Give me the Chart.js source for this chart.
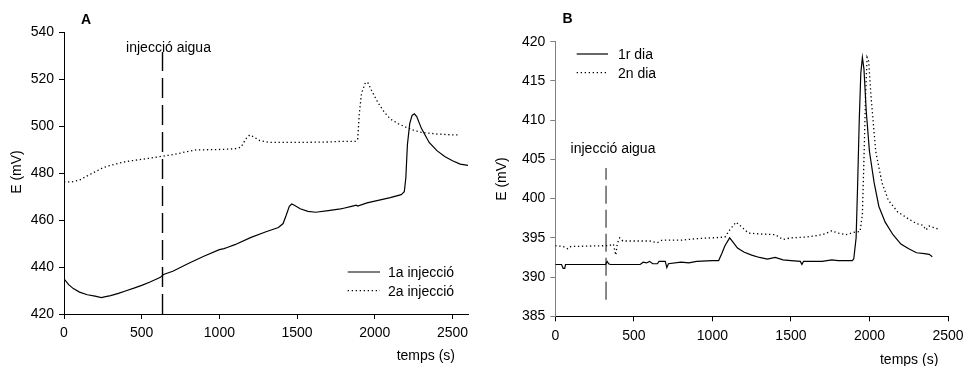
<!DOCTYPE html>
<html>
<head>
<meta charset="utf-8">
<script src="https://cdn.jsdelivr.net/npm/chart.js@4"></script>
<style>
	body { margin: 0; background: #fff; }
	#wrap { position: relative; width: 963px; height: 366px; }
	canvas { position: absolute; top: 0; }
	#chartA { left: 0; }
	#chartB { left: 480px; }
</style>
</head>
<body>
<div id="wrap">
	<canvas id="chartA" width="480" height="366"></canvas>
	<canvas id="chartB" width="483" height="366"></canvas>
</div>
<script>
// panel A: 1a / 2a injecció
var timeA1 = [0, 30, 60, 100, 150, 200, 240, 260, 300, 350, 400, 450, 500, 550, 600, 620, 640, 700, 800, 900, 1000, 1030, 1050, 1100, 1200, 1300, 1380, 1410, 1430, 1450, 1465, 1480, 1520, 1570, 1620, 1700, 1780, 1800, 1850, 1880, 1890, 1950, 2000, 2100, 2170, 2190, 2200, 2210, 2225, 2240, 2255, 2270, 2300, 2350, 2400, 2450, 2500, 2550, 2600]
var valA1 = [435, 432.5, 430.8, 429.3, 428.2, 427.6, 427, 427.3, 427.8, 428.8, 429.9, 431, 432.2, 433.5, 435, 435.6, 436.8, 438.2, 441.5, 444.6, 447.4, 447.8, 448.3, 449.5, 452.5, 455, 456.8, 458.5, 462, 465.8, 466.8, 466.4, 464.8, 463.7, 463.3, 464, 464.7, 465, 465.8, 466.3, 465.9, 467.3, 468, 469.5, 470.8, 472, 478, 492, 501, 504.5, 505.2, 504, 499, 493, 489.5, 487, 485.2, 483.8, 483.2]
var timeA2 = [0, 50, 100, 150, 200, 250, 300, 400, 500, 600, 640, 700, 800, 850, 1000, 1100, 1140, 1170, 1195, 1220, 1260, 1320, 1500, 1700, 1800, 1880, 1890, 1900, 1915, 1940, 1955, 1980, 2020, 2060, 2100, 2150, 2200, 2250, 2300, 2400, 2500, 2550]
var valA2 = [476.2, 476.2, 477, 478.8, 480.5, 482.2, 483.3, 484.9, 485.8, 486.8, 487.2, 487.8, 489.2, 489.8, 490, 490.3, 491, 494.5, 496.2, 495.4, 493.8, 493, 493, 493.2, 493.5, 493.5, 494.5, 505, 514, 518.5, 518.5, 515, 510, 506, 503, 501, 499.5, 498.2, 497.3, 496.6, 496.2, 496.2]

// panel B: 1r / 2n dia
var timeB1 = [0, 40, 50, 60, 65, 320, 330, 340, 350, 540, 560, 580, 600, 620, 650, 660, 700, 710, 720, 800, 850, 900, 1000, 1040, 1060, 1080, 1110, 1130, 1160, 1200, 1250, 1300, 1350, 1400, 1450, 1500, 1560, 1570, 1580, 1700, 1760, 1800, 1890, 1900, 1915, 1925, 1935, 1945, 1955, 1965, 1980, 2000, 2030, 2060, 2100, 2150, 2200, 2250, 2300, 2350, 2380, 2400]
var valB1 = [391.6, 391.6, 391.1, 391.1, 391.6, 391.6, 392, 391.7, 391.6, 391.6, 391.9, 391.8, 392, 391.7, 391.7, 392, 392, 391.2, 391.7, 391.9, 391.8, 392, 392.1, 392.1, 393, 394, 395, 394.5, 393.7, 393.2, 392.8, 392.5, 392.3, 392.5, 392.2, 392.1, 392, 391.6, 392, 392, 392.2, 392.1, 392.1, 392.3, 395, 402, 410, 416, 418, 416.5, 411, 406, 402, 399, 397, 395.4, 394.2, 393.6, 393.1, 393, 392.9, 392.6]
var timeB2 = [0, 50, 80, 100, 320, 340, 370, 385, 395, 410, 430, 600, 650, 680, 800, 900, 1000, 1080, 1110, 1150, 1180, 1230, 1300, 1400, 1450, 1500, 1600, 1700, 1760, 1800, 1850, 1900, 1940, 1955, 1965, 1975, 1985, 1995, 2010, 2040, 2080, 2120, 2180, 2250, 2300, 2340, 2360, 2380, 2440]
var valB2 = [394, 393.9, 393.6, 393.9, 394, 394, 394.2, 392.8, 394.3, 395, 394.6, 394.6, 394.4, 394.7, 394.7, 394.9, 395, 395.1, 396, 397, 396.5, 395.6, 395.5, 395.4, 394.8, 395, 395.1, 395.4, 395.9, 395.6, 395.4, 395.7, 395.8, 398, 405, 413, 418, 417.5, 413, 406, 402, 399.8, 398.3, 397.4, 396.8, 396.6, 396, 396.5, 396.1]

// tick labels
var xTicks = [0, 500, 1000, 1500, 2000, 2500]
var yTicksA = [420, 440, 460, 480, 500, 520, 540]
var yTicksB = [385, 390, 395, 400, 405, 410, 415, 420]

// water injection markers
var injA = [634, 420, 531.5]
var injB = [323, 387.1, 403.9]

var fontName = '"Liberation Sans", Arial, sans-serif'

function pts(xs, ys) {
	return xs.map(function(x, i) { return {x: x, y: ys[i]} })
}

function lineSet(xs, ys, dash, color, width) {
	return {
		data: pts(xs, ys),
		showLine: true,
		borderColor: color,
		borderWidth: width,
		borderDash: dash,
		pointRadius: 0,
		tension: 0,
	}
}

function axis(opts) {
	return {
		type: 'linear',
		min: opts.min,
		max: opts.max,
		afterFit: function(s) {
			opts.fit(s)
			// let edge labels overhang, as in the original
			s.paddingLeft = 0
			s.paddingRight = 0
			s.paddingTop = 0
			s.paddingBottom = 0
		},
		afterBuildTicks: function(s) {
			s.ticks = opts.ticks.map(function(v) { return {value: v} })
		},
		border: {display: true, color: opts.color, width: 1},
		grid: {drawOnChartArea: false, drawTicks: true, tickLength: 5, color: opts.color},
		ticks: {
			color: '#000',
			padding: opts.pad,
			font: {family: fontName, size: 14},
			callback: function(v) { return String(v) },
		},
	}
}

function textPlugin(items) {
	return {
		id: 'texts',
		afterDraw: function(chart) {
			var c = chart.ctx
			c.save()
			items.forEach(function(t) {
				c.font = (t.bold ? 'bold ' : '') + (t.size || 14) + 'px ' + fontName
				c.fillStyle = '#000'
				c.textAlign = t.align || 'left'
				c.textBaseline = 'alphabetic'
				if (t.line) {
					c.strokeStyle = '#000'
					c.lineWidth = 1.2
					c.setLineDash(t.line)
					c.beginPath()
					c.moveTo(t.lx0, t.ly)
					c.lineTo(t.lx1, t.ly)
					c.stroke()
					c.setLineDash([])
				}
				if (t.rot) {
					c.save()
					c.translate(t.x, t.y)
					c.rotate(-Math.PI / 2)
					c.textAlign = 'center'
					c.textBaseline = 'middle'
					c.fillText(t.text, 0, 0)
					c.restore()
				} else {
					c.fillText(t.text, t.x, t.y)
				}
			})
			c.restore()
		}
	}
}

var chartA = new Chart(document.getElementById('chartA'), {
	type: 'scatter',
	data: {
		datasets: [
			lineSet(timeA1, valA1, [], '#000', 1.2),
			lineSet(timeA2, valA2, [1.3, 2.7], '#000', 1.3),
			lineSet([injA[0], injA[0]], [injA[1], injA[2]], [20, 7], '#000', 1.4),
		]
	},
	options: {
		responsive: false,
		animation: false,
		layout: {padding: {left: 0, top: 32, right: 12, bottom: 0}},
		plugins: {legend: {display: false}, tooltip: {enabled: false}},
		scales: {
			x: axis({min: 0, max: 2600, ticks: xTicks, color: '#000', pad: 6, fit: function(s) { s.height = 52 }}),
			y: axis({min: 420, max: 540, ticks: yTicksA, color: '#000', pad: 5, fit: function(s) { s.width = 64 }}),
		}
	},
	plugins: [textPlugin([
		{text: 'A', x: 81, y: 24, bold: true, size: 14},
		{text: 'injecció aigua', x: 168.5, y: 52, align: 'center'},
		{text: '1a injecció', x: 388, y: 277, line: [], lx0: 347.7, lx1: 380, ly: 272},
		{text: '2a injecció', x: 388, y: 295.5, line: [1.3, 2.7], lx0: 347.7, lx1: 380, ly: 290.7},
		{text: 'temps (s)', x: 455, y: 360, align: 'right'},
		{text: 'E (mV)', x: 17, y: 172, rot: true},
	])]
})

var chartB = new Chart(document.getElementById('chartB'), {
	type: 'scatter',
	data: {
		datasets: [
			lineSet(timeB1, valB1, [], '#000', 1.2),
			lineSet(timeB2, valB2, [1.3, 2.7], '#000', 1.3),
			lineSet([injB[0], injB[0]], [injB[1], injB[2]], [18, 6], '#555', 1.4),
		]
	},
	options: {
		responsive: false,
		animation: false,
		layout: {padding: {left: 0, top: 41.7, right: 15, bottom: 0}},
		plugins: {legend: {display: false}, tooltip: {enabled: false}},
		scales: {
			x: axis({min: 0, max: 2500, ticks: xTicks, color: '#000', pad: 6, fit: function(s) { s.height = 49.7 }}),
			y: axis({min: 385, max: 420, ticks: yTicksB, color: '#808080', pad: 5, fit: function(s) { s.width = 75.3 }}),
		}
	},
	plugins: [textPlugin([
		{text: 'B', x: 82.5, y: 23, bold: true, size: 14},
		{text: 'injecció aigua', x: 133, y: 153, align: 'center'},
		{text: '1r dia', x: 138, y: 59, line: [], lx0: 96.7, lx1: 128, ly: 54},
		{text: '2n dia', x: 138, y: 77.5, line: [1.3, 2.7], lx0: 96.7, lx1: 128, ly: 72.7},
		{text: 'temps (s)', x: 458.3, y: 364, align: 'right'},
		{text: 'E (mV)', x: 22, y: 179, rot: true},
	])]
})
</script>
</body>
</html>
